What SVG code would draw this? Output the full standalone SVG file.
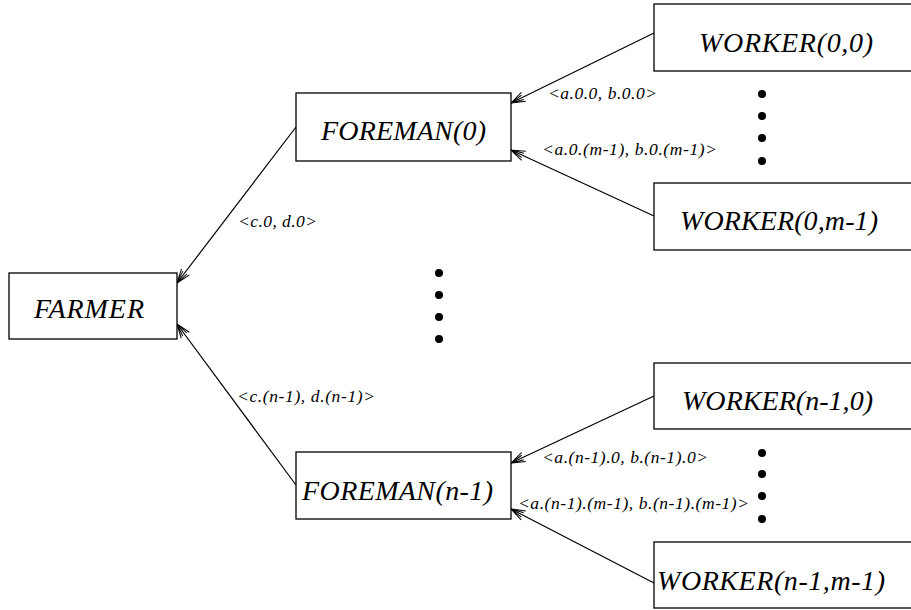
<svg xmlns="http://www.w3.org/2000/svg" width="911" height="610" viewBox="0 0 911 610">
<defs>
<marker id="arr" viewBox="0 0 16 12" refX="15" refY="6" markerWidth="16" markerHeight="12" markerUnits="userSpaceOnUse" orient="auto">
<path d="M1,1 L15,6 L1,11 M2,3.5 L15,6 L2,8.5" fill="none" stroke="#000" stroke-width="1"/>
</marker>
<style>
.box{fill:#fff;stroke:#000;stroke-width:1.3}
.big{font-family:"Liberation Serif",serif;font-style:italic;font-size:28px;fill:#000}
.lbl{font-family:"Liberation Serif",serif;font-style:italic;font-size:17.5px;fill:#000}
.edge{stroke:#000;stroke-width:1.2;fill:none;marker-end:url(#arr)}
.dot{fill:#000}
</style>
</defs>
<rect width="911" height="610" fill="#fff"/>
<g id="connectors">
<line class="edge" x1="654" y1="33" x2="511" y2="103"/>
<line class="edge" x1="654" y1="216" x2="511" y2="150"/>
<line class="edge" x1="654" y1="396" x2="511" y2="463"/>
<line class="edge" x1="654" y1="583" x2="511" y2="509"/>
<line class="edge" x1="296" y1="127" x2="177" y2="283"/>
<line class="edge" x1="296" y1="485" x2="177" y2="324"/>
</g>
<g id="farmer">
<rect class="box" x="9" y="273" width="168" height="66"/>
<text class="big" x="34" y="318" textLength="110" lengthAdjust="spacing">FARMER</text>
</g>
<g id="foreman0">
<rect class="box" x="296" y="93" width="215" height="68"/>
<text class="big" x="321" y="140" textLength="165" lengthAdjust="spacing">FOREMAN(0)</text>
</g>
<g id="foremann1">
<rect class="box" x="296" y="452" width="215" height="67"/>
<text class="big" x="302" y="500" textLength="191" lengthAdjust="spacing">FOREMAN(n-1)</text>
</g>
<g id="worker00">
<rect class="box" x="654" y="4" width="270" height="67"/>
<text class="big" x="699" y="52" textLength="174" lengthAdjust="spacing">WORKER(0,0)</text>
</g>
<g id="worker0m1">
<rect class="box" x="654" y="183" width="270" height="67"/>
<text class="big" x="680" y="230" textLength="198" lengthAdjust="spacing">WORKER(0,m-1)</text>
</g>
<g id="workern10">
<rect class="box" x="654" y="363" width="270" height="66"/>
<text class="big" x="682" y="410" textLength="191" lengthAdjust="spacing">WORKER(n-1,0)</text>
</g>
<g id="workern1m1">
<rect class="box" x="654" y="542" width="270" height="66"/>
<text class="big" x="657" y="590" textLength="228" lengthAdjust="spacing">WORKER(n-1,m-1)</text>
</g>
<g id="labels">
<text class="lbl" x="548" y="99" textLength="109" lengthAdjust="spacing">&lt;a.0.0, b.0.0&gt;</text>
<text class="lbl" x="542" y="155" textLength="175" lengthAdjust="spacing">&lt;a.0.(m-1), b.0.(m-1)&gt;</text>
<text class="lbl" x="238" y="227" textLength="79" lengthAdjust="spacing">&lt;c.0, d.0&gt;</text>
<text class="lbl" x="237" y="402" textLength="138" lengthAdjust="spacing">&lt;c.(n-1), d.(n-1)&gt;</text>
<text class="lbl" x="542" y="463" textLength="166" lengthAdjust="spacing">&lt;a.(n-1).0, b.(n-1).0&gt;</text>
<text class="lbl" x="518" y="509" textLength="231" lengthAdjust="spacing">&lt;a.(n-1).(m-1), b.(n-1).(m-1)&gt;</text>
</g>
<g id="dots">
<circle class="dot" cx="439" cy="273" r="4"/>
<circle class="dot" cx="439" cy="295" r="4"/>
<circle class="dot" cx="439" cy="317" r="4"/>
<circle class="dot" cx="439" cy="339" r="4"/>
<circle class="dot" cx="762" cy="94" r="4"/>
<circle class="dot" cx="762" cy="116" r="4"/>
<circle class="dot" cx="762" cy="138" r="4"/>
<circle class="dot" cx="762" cy="161" r="4"/>
<circle class="dot" cx="762" cy="453" r="4"/>
<circle class="dot" cx="762" cy="474" r="4"/>
<circle class="dot" cx="762" cy="496" r="4"/>
<circle class="dot" cx="762" cy="519" r="4"/>
</g>
</svg>
